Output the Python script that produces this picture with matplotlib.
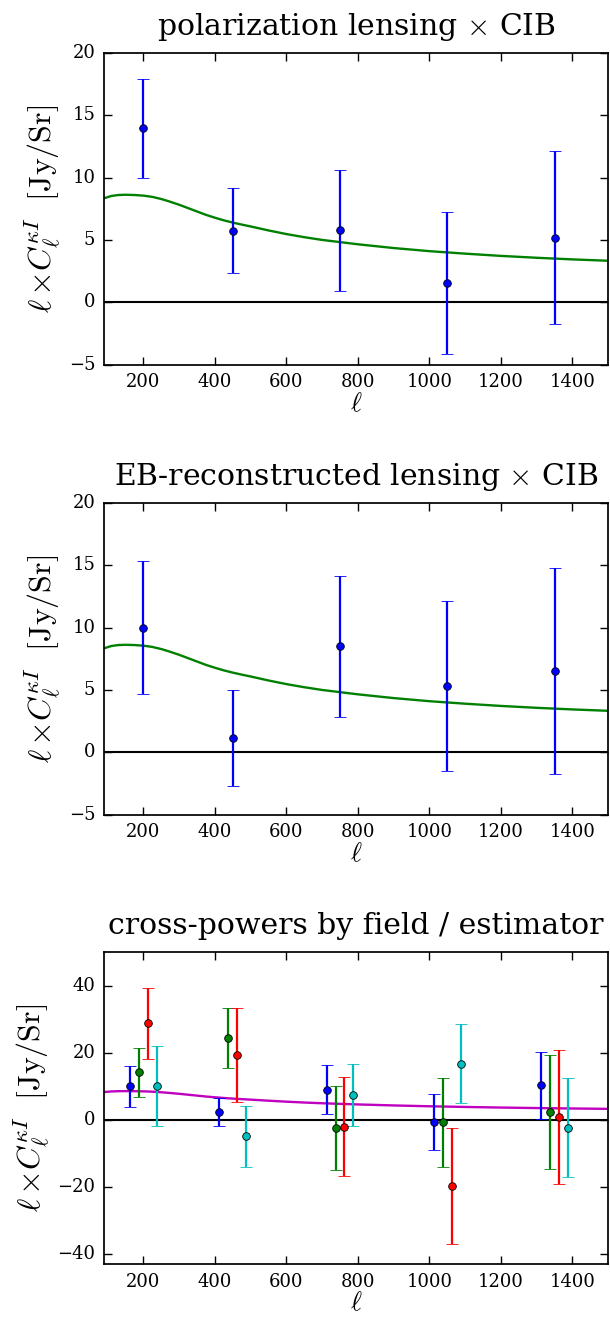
import numpy as np
import matplotlib
matplotlib.use("Agg")
import matplotlib.pyplot as plt

# bandpower centres and measurements
ell_bins = [200, 450, 750, 1050, 1350]

pol_vals = [13.95, 5.74, 5.77, 1.52, 5.18]
pol_errs = [3.97, 3.42, 4.87, 5.70, 6.94]

eb_vals = [10.0, 1.15, 8.49, 5.31, 6.54]
eb_errs = [5.34, 3.87, 5.65, 6.81, 8.26]

# per-field / estimator cross-powers (offset in ell for visibility)
field_offsets = [-37.5, -12.5, 12.5, 37.5]
field_colors = ["b", "g", "r", "c"]
field_vals = [
    [10.0, 2.4, 9.1, -0.5, 10.4],
    [14.2, 24.4, -2.4, -0.7, 2.4],
    [28.8, 19.4, -2.0, -19.6, 0.8],
    [10.1, -4.9, 7.4, 16.8, -2.3],
]
field_errs = [
    [6.0, 4.3, 7.2, 8.4, 10.0],
    [7.3, 8.9, 12.6, 13.2, 16.9],
    [10.5, 14.0, 14.8, 17.3, 20.0],
    [11.9, 9.1, 9.2, 11.7, 14.7],
]

# theory curve
ell_model = [89, 110, 130, 150, 175, 200, 225, 250, 275, 300, 325, 350, 375, 400,
             425, 450, 475, 500, 550, 600, 650, 700, 800, 900, 1000, 1100, 1200,
             1300, 1400, 1500]
model_vals = [8.33, 8.52, 8.60, 8.62, 8.60, 8.55, 8.45, 8.28, 8.06, 7.82, 7.55,
              7.28, 7.01, 6.78, 6.57, 6.39, 6.23, 6.08, 5.76, 5.47, 5.22, 5.00,
              4.65, 4.35, 4.10, 3.90, 3.72, 3.57, 3.44, 3.33]

plt.style.use("classic")
plt.rcParams["font.family"] = "serif"
plt.rcParams["font.serif"] = ["DejaVu Serif"]
plt.rcParams["mathtext.fontset"] = "cm"
plt.rcParams["font.size"] = 13

ylab = r"$\ell\,{\times}C_\ell^{\kappa I}\ \ [{\rm Jy/Sr}]$"

fig = plt.figure(figsize=(6.1, 13.19), dpi=100, facecolor="white")

ax_w = 0.827
ax_h = 0.2365
ax_l = 0.170
bottoms = [0.7235, 0.3823, 0.0415]


def style_axes(ax, title, ylim, yticks):
    ax.set_xlim(89, 1500)
    ax.set_ylim(*ylim)
    ax.set_xticks([200, 400, 600, 800, 1000, 1200, 1400])
    ax.set_yticks(yticks)
    ax.axhline(0, color="k", lw=1.5, zorder=1)
    ax.set_title(title, fontsize=21.5, pad=13)
    ax.set_xlabel(r"$\ell$", fontsize=19, labelpad=0)
    ax.set_ylabel(ylab, fontsize=23, labelpad=4)
    ax.tick_params(direction="in", length=6, width=1, pad=6, labelsize=13)
    for s in ax.spines.values():
        s.set_linewidth(1.25)


# panel 1
ax1 = fig.add_axes([ax_l, bottoms[0], ax_w, ax_h])
ax1.plot(ell_model, model_vals, color="g", lw=1.7, zorder=2)
ax1.errorbar(ell_bins, pol_vals, yerr=pol_errs, fmt="o", color="b", ecolor="b",
             ms=5.5, mec="k", mew=0.6, elinewidth=1.6, capsize=4.5, capthick=1.6, zorder=3)
style_axes(ax1, r"polarization lensing $\times$ CIB", (-5, 20), [-5, 0, 5, 10, 15, 20])

# panel 2
ax2 = fig.add_axes([ax_l, bottoms[1], ax_w, ax_h])
ax2.plot(ell_model, model_vals, color="g", lw=1.7, zorder=2)
ax2.errorbar(ell_bins, eb_vals, yerr=eb_errs, fmt="o", color="b", ecolor="b",
             ms=5.5, mec="k", mew=0.6, elinewidth=1.6, capsize=4.5, capthick=1.6, zorder=3)
style_axes(ax2, r"EB-reconstructed lensing $\times$ CIB", (-5, 20), [-5, 0, 5, 10, 15, 20])

# panel 3
ax3 = fig.add_axes([ax_l, bottoms[2], ax_w, ax_h])
ax3.plot(ell_model, model_vals, color="m", lw=1.7, zorder=2)
for off, col, vals, errs in zip(field_offsets, field_colors, field_vals, field_errs):
    xs = np.array(ell_bins) + off
    ax3.errorbar(xs, vals, yerr=errs, fmt="o", color=col, ecolor=col,
                 ms=5.5, mec="k", mew=0.6, elinewidth=1.6, capsize=4.5, capthick=1.6, zorder=3)
style_axes(ax3, "cross-powers by field / estimator", (-43, 50), [-40, -20, 0, 20, 40])

fig.savefig("out.png", dpi=100, facecolor="white")
